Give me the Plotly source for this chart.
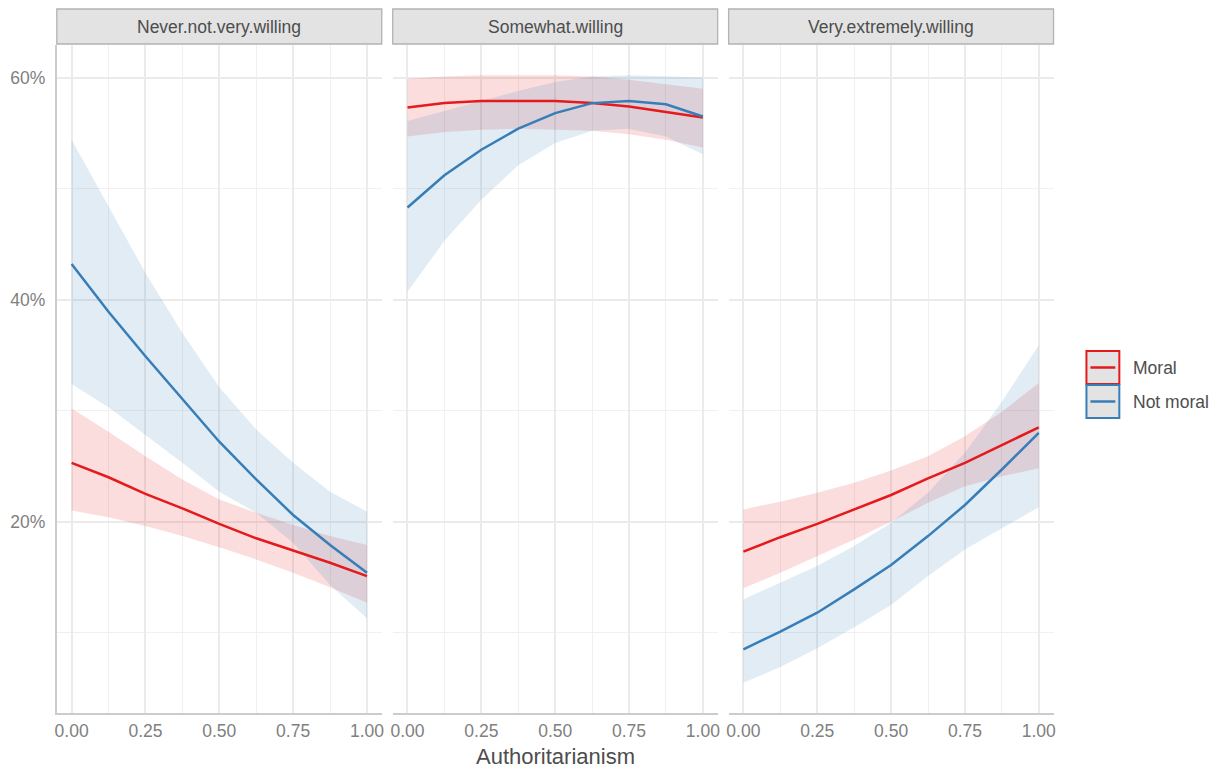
import plotly.graph_objects as go

# Predicted probabilities by authoritarianism, per willingness level
authoritarianism = [0.0, 0.125, 0.25, 0.375, 0.5, 0.625, 0.75, 0.875, 1.0]
panels = ["Never.not.very.willing", "Somewhat.willing", "Very.extremely.willing"]
groups = ["Moral", "Not moral"]

# Never.not.very.willing
never_moral_fit = [25.3, 24.0, 22.5, 21.2, 19.8, 18.5, 17.4, 16.3, 15.1]
never_moral_lo = [21.0, 20.4, 19.6, 18.7, 17.7, 16.6, 15.4, 14.1, 12.7]
never_moral_hi = [30.2, 28.1, 25.9, 23.8, 22.0, 20.8, 19.7, 18.7, 17.9]
never_not_fit = [43.2, 38.9, 34.9, 31.0, 27.2, 23.8, 20.6, 17.9, 15.4]
never_not_lo = [32.4, 30.3, 27.8, 25.3, 22.7, 20.8, 18.1, 14.3, 11.3]
never_not_hi = [54.4, 48.4, 42.4, 37.0, 32.1, 28.3, 25.3, 22.7, 20.9]

# Somewhat.willing
some_moral_fit = [57.3, 57.7, 57.9, 57.9, 57.9, 57.7, 57.4, 56.9, 56.4]
some_moral_lo = [54.7, 55.1, 55.3, 55.4, 55.3, 55.2, 54.9, 54.4, 53.7]
some_moral_hi = [59.9, 60.1, 60.2, 60.2, 60.2, 60.1, 59.8, 59.4, 59.0]
some_not_fit = [48.3, 51.2, 53.5, 55.4, 56.8, 57.7, 57.9, 57.6, 56.5]
some_not_lo = [40.7, 45.3, 49.0, 52.1, 54.1, 55.2, 55.4, 54.7, 53.1]
some_not_hi = [56.1, 57.0, 57.9, 58.8, 59.6, 60.1, 60.2, 60.1, 60.0]

# Very.extremely.willing
very_moral_fit = [17.3, 18.6, 19.8, 21.1, 22.4, 23.9, 25.3, 26.9, 28.5]
very_moral_lo = [14.0, 15.4, 16.9, 18.4, 20.0, 21.7, 23.2, 24.1, 24.8]
very_moral_hi = [21.1, 21.8, 22.6, 23.5, 24.6, 25.9, 27.7, 29.9, 32.5]
very_not_fit = [8.5, 10.1, 11.8, 13.9, 16.1, 18.7, 21.5, 24.7, 28.0]
very_not_lo = [5.5, 6.9, 8.6, 10.5, 12.5, 15.1, 17.5, 19.4, 21.3]
very_not_hi = [13.0, 14.5, 16.0, 17.8, 19.9, 22.6, 26.2, 30.8, 35.9]

x_ticks = [0, 0.25, 0.5, 0.75, 1.0]
x_tick_labels = ["0.00", "0.25", "0.50", "0.75", "1.00"]
y_ticks = [20, 40, 60]
y_tick_labels = ["20%", "40%", "60%"]

series = {
    panels[0]: {"Moral": (never_moral_fit, never_moral_lo, never_moral_hi),
                "Not moral": (never_not_fit, never_not_lo, never_not_hi)},
    panels[1]: {"Moral": (some_moral_fit, some_moral_lo, some_moral_hi),
                "Not moral": (some_not_fit, some_not_lo, some_not_hi)},
    panels[2]: {"Moral": (very_moral_fit, very_moral_lo, very_moral_hi),
                "Not moral": (very_not_fit, very_not_lo, very_not_hi)},
}

colors = {"Moral": "#e41a1c", "Not moral": "#377eb8"}
fills = {"Moral": "rgba(228,26,28,0.15)", "Not moral": "rgba(55,126,184,0.15)"}

W, H = 1223, 768
FONT = "Liberation Sans, Arial, sans-serif"

# panel geometry in pixels
panel_x = [(55, 381), (392, 718), (729, 1055)]
panel_top, panel_bottom = 45, 713
strip_top = 9

def px(x):
    return x / W

def py(y):
    return 1 - y / H

# y range with ggplot-style 5% expansion
all_vals = [v for p in series.values() for g in p.values() for arr in g for v in arr]
lo, hi = min(all_vals), max(all_vals)
pad = 0.05 * (hi - lo)
y_range = [lo - pad, hi + pad]

fig = go.Figure()

for i, panel in enumerate(panels):
    suffix = "" if i == 0 else str(i + 1)
    xa, ya = "x" + suffix, "y" + suffix
    # confidence ribbons first
    for g in groups:
        fit, low, high = series[panel][g]
        fig.add_trace(go.Scatter(
            x=authoritarianism + authoritarianism[::-1],
            y=high + low[::-1],
            fill="toself", fillcolor=fills[g], mode="lines",
            line=dict(width=0), hoverinfo="skip", showlegend=False,
            xaxis=xa, yaxis=ya))
    for g in groups:
        fit, low, high = series[panel][g]
        fig.add_trace(go.Scatter(
            x=authoritarianism, y=fit, mode="lines", name=g,
            line=dict(color=colors[g], width=2.5),
            showlegend=False, xaxis=xa, yaxis=ya))

layout = dict(
    width=W, height=H,
    margin=dict(l=0, r=0, t=0, b=0),
    paper_bgcolor="white", plot_bgcolor="white",
    font=dict(family=FONT, color="#4d4d4d"),
    showlegend=False,
)

shapes = []
annotations = []

for i, panel in enumerate(panels):
    suffix = "" if i == 0 else str(i + 1)
    x0, x1 = panel_x[i]
    layout["xaxis" + suffix] = dict(
        domain=[px(x0), px(x1)], anchor="y" + suffix,
        range=[-0.05, 1.05], tickvals=x_ticks, ticktext=x_tick_labels,
        showgrid=True, gridcolor="#ebebeb", gridwidth=2,
        minor=dict(tickvals=[0.125, 0.375, 0.625, 0.875], showgrid=True,
                   gridcolor="#f0f0f0", gridwidth=1.3, ticks=""),
        zeroline=False, showline=True, linecolor="#cccccc", linewidth=2,
        ticks="", ticklabelstandoff=1,
        tickfont=dict(family=FONT, size=17.5, color="#808080"),
        fixedrange=True,
    )
    layout["yaxis" + suffix] = dict(
        domain=[py(panel_bottom), py(panel_top)], anchor="x" + suffix,
        range=y_range, tickvals=y_ticks, ticktext=y_tick_labels,
        showticklabels=(i == 0),
        showgrid=True, gridcolor="#ebebeb", gridwidth=2,
        minor=dict(tickvals=[10, 30, 50], showgrid=True,
                   gridcolor="#f0f0f0", gridwidth=1.3, ticks=""),
        zeroline=False, showline=(i == 0), linecolor="#cccccc", linewidth=2,
        ticks="", ticklabelstandoff=6,
        tickfont=dict(family=FONT, size=17.5, color="#808080"),
        fixedrange=True,
    )
    # facet strip
    shapes.append(dict(type="rect", xref="paper", yref="paper",
                       x0=px(x0), x1=px(x1), y0=py(panel_top - 1), y1=py(strip_top),
                       fillcolor="#e3e3e3", line=dict(color="#b3b3b3", width=1.3),
                       layer="below"))
    annotations.append(dict(text=panel, xref="paper", yref="paper",
                            x=px((x0 + x1) / 2), y=py((strip_top + panel_top) / 2),
                            xanchor="center", yanchor="middle", showarrow=False,
                            font=dict(family=FONT, size=17.5, color="#4d4d4d")))

# x axis title
annotations.append(dict(text="Authoritarianism", xref="paper", yref="paper",
                        x=px(555), y=py(756), xanchor="center", yanchor="middle",
                        showarrow=False,
                        font=dict(family=FONT, size=22, color="#4d4d4d")))

# legend keys
key_x0, key_x1 = 1088, 1121
key_rows = [(351, 384), (385, 418)]
for g, (k0, k1) in zip(groups, key_rows):
    shapes.append(dict(type="rect", xref="paper", yref="paper",
                       x0=px(key_x0), x1=px(key_x1), y0=py(k1), y1=py(k0),
                       fillcolor="#e3e3e3", line=dict(color=colors[g], width=2)))
    mid = (k0 + k1) / 2
    shapes.append(dict(type="line", xref="paper", yref="paper",
                       x0=px(key_x0 + 4), x1=px(key_x1 - 4), y0=py(mid), y1=py(mid),
                       line=dict(color=colors[g], width=2.5)))
    annotations.append(dict(text=g, xref="paper", yref="paper",
                            x=px(1133), y=py(mid), xanchor="left", yanchor="middle",
                            showarrow=False,
                            font=dict(family=FONT, size=17.5, color="#4d4d4d")))

layout["shapes"] = shapes
layout["annotations"] = annotations
fig.update_layout(**layout)

fig.write_html("out.html", config={"displayModeBar": False})
